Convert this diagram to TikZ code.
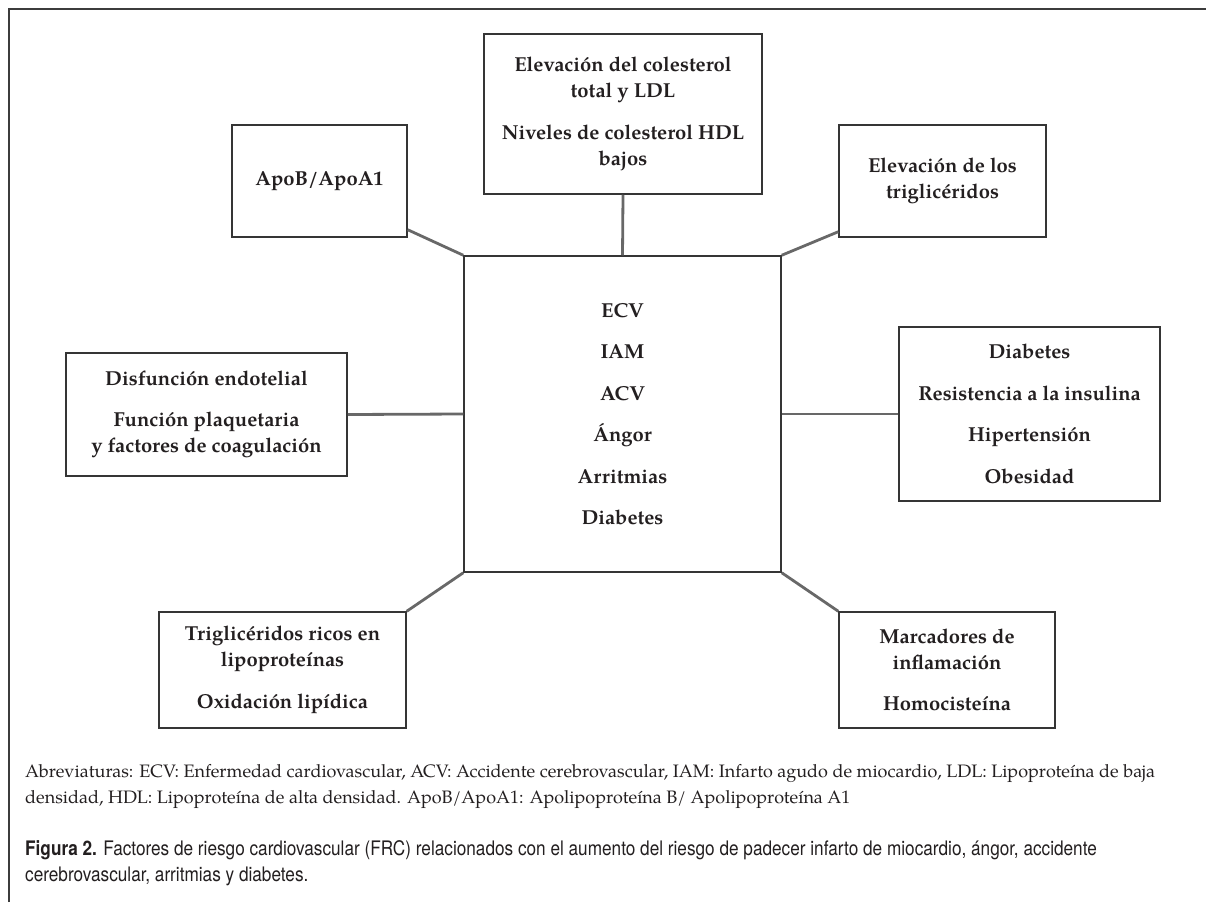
\documentclass[tikz,border=0pt]{standalone}
\usepackage{fontspec}
\setmainfont{texgyrepagella}[Extension=.otf,UprightFont=*-regular,BoldFont=*-bold,ItalicFont=*-italic,BoldItalicFont=*-bolditalic]
\newfontfamily\capfont{texgyreheros}[Extension=.otf,UprightFont=*-regular,BoldFont=*-bold,FakeStretch=0.86]
\definecolor{boxline}{HTML}{353535}
\definecolor{conn}{HTML}{686868}
\definecolor{txt}{HTML}{231F20}
\definecolor{frame}{HTML}{3C3C3C}
\begin{document}
\begin{tikzpicture}[x=1pt,y=-1pt,
  fbox/.style={draw=boxline,line width=1.5pt,rectangle,inner sep=0pt,align=center,text=txt,
    font=\fontsize{20.2}{26}\selectfont\bfseries},
  link/.style={draw=conn,line width=2.8pt},
  captxt/.style={anchor=base west,inner sep=0pt,text=txt,font=\fontsize{18}{26}\selectfont},
  figtxt/.style={anchor=base west,inner sep=0pt,text=txt,font=\capfont\fontsize{20}{26}\selectfont}]
\useasboundingbox (0,0) rectangle (1206,902);
\fill[white] (0,0) rectangle (1206,902);
\draw[line width=2pt,draw=frame] (9,902) -- (9,9) -- (1206,9);

\node[fbox,minimum width=317pt,minimum height=316pt] (cen) at (622.5,414)
  {ECV\\[15.5pt] IAM\\[15.5pt] ACV\\[15.5pt] Ángor\\[15.5pt] Arritmias\\[15.5pt] Diabetes};
\node[fbox,minimum width=278pt,minimum height=160pt] (top) at (623,114)
  {Elevación del colesterol\\ total y LDL\\[15.5pt] Niveles de colesterol HDL\\ bajos};
\node[fbox,minimum width=175pt,minimum height=112pt] (apob) at (319.5,181) {ApoB/ApoA1};
\node[fbox,minimum width=207pt,minimum height=112pt] (trigel) at (942.5,181)
  {Elevación de los\\ triglicéridos};
\node[fbox,minimum width=281pt,minimum height=123pt] (disf) at (206.5,414.5)
  {Disfunción endotelial\\[15.5pt] Función plaquetaria\\ y factores de coagulación};
\node[fbox,minimum width=261pt,minimum height=174pt] (diab) at (1029.5,414)
  {Diabetes\\[15.5pt] Resistencia a la insulina\\[15.5pt] Hipertensión\\[15.5pt] Obesidad};
\node[fbox,minimum width=247pt,minimum height=116pt] (trigri) at (282.5,670)
  {Triglicéridos ricos en\\ lipoproteínas\\[15.5pt] Oxidación lipídica};
\node[fbox,minimum width=216pt,minimum height=116pt] (marc) at (947,670)
  {Marcadores de\\ inflamación\\[15.5pt] Homocisteína};

\draw[link] (top.south) -- (cen.north);
\draw[link] ([yshift=8pt]apob.south east) -- (cen.north west);
\draw[link] ([yshift=6pt]trigel.south west) -- (cen.north east);
\draw[link] (disf.east) -- (cen.west);
\draw[link] (diab.west) -- (cen.east);
\draw[link] (trigri.north east) -- (cen.south west);
\draw[link] (marc.north west) -- (cen.south east);

\node[captxt] (abr1) at (25,777) {Abreviaturas: ECV: Enfermedad cardiovascular, ACV: Accidente cerebrovascular, IAM: Infarto agudo de miocardio, LDL: Lipoproteína de baja};
\node[captxt] (abr2) at (25,803) {densidad, HDL: Lipoproteína de alta densidad. ApoB/ApoA1: Apolipoproteína B/ Apolipoproteína A1};
\node[figtxt] (fig1) at (25,855) {\textbf{Figura 2.} Factores de riesgo cardiovascular (FRC) relacionados con el aumento del riesgo de padecer infarto de miocardio, ángor, accidente};
\node[figtxt] (fig2) at (25,881) {cerebrovascular, arritmias y diabetes.};
\end{tikzpicture}
\end{document}
